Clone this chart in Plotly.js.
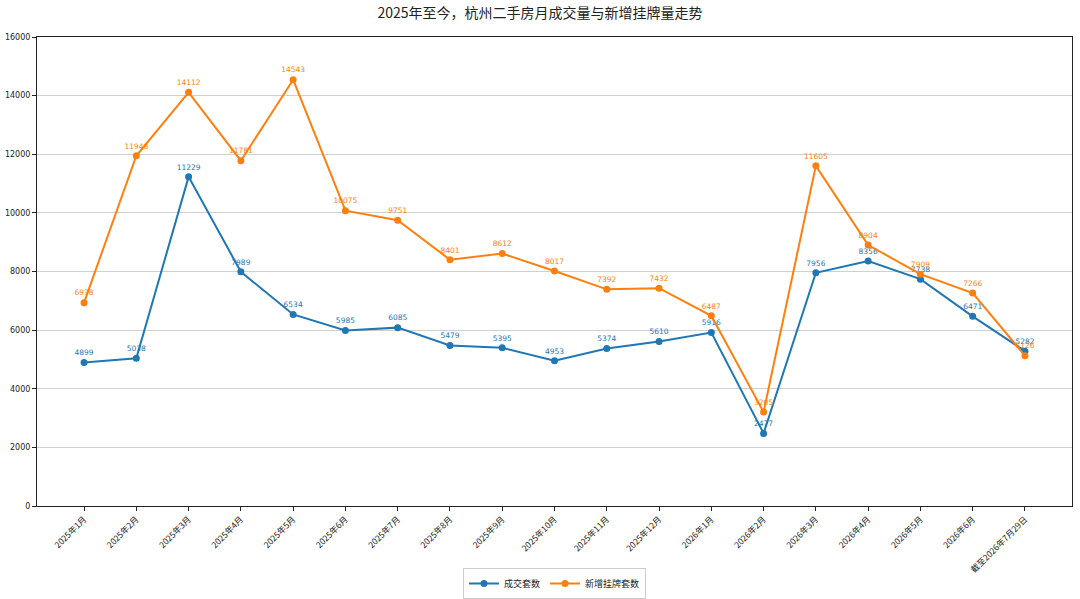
<!DOCTYPE html>
<html>
<head>
<meta charset="utf-8">
<script src="https://cdn.plot.ly/plotly-3.0.1.min.js"></script>
<style>
  html, body { margin: 0; padding: 0; background: #fff; }
  #chart { width: 1080px; height: 599px; }
</style>
</head>
<body>
<div id="chart"></div>
<script>
const months = ["2025年1月", "2025年2月", "2025年3月", "2025年4月", "2025年5月", "2025年6月",
    "2025年7月", "2025年8月", "2025年9月", "2025年10月", "2025年11月", "2025年12月",
    "2026年1月", "2026年2月", "2026年3月", "2026年4月", "2026年5月", "2026年6月", "截至2026年7月29日"];
const deals = [4899, 5038, 11229, 7989, 6534, 5985, 6085, 5479, 5395, 4953, 5374, 5610,
    5916, 2477, 7956, 8356, 7738, 6471, 5282];
const listings = [6938, 11948, 14112, 11781, 14543, 10075, 9751, 8401, 8612, 8017, 7392, 7432,
    6487, 3205, 11605, 8904, 7909, 7266, 5126];
const yTicks = [0, 2000, 4000, 6000, 8000, 10000, 12000, 14000, 16000];

const FONT = "'DejaVu Sans', 'Noto Sans CJK SC', sans-serif";
const CJK = "'Noto Sans CJK SC', 'DejaVu Sans', sans-serif";

const lineTrace = (y, name, color) => {
    return {
        x: months.map((_, i) => i),
        y: y,
        name: name,
        type: 'scatter',
        mode: 'lines+markers+text',
        line: {color: color, width: 2},
        marker: {color: color, size: 7},
        text: y.map(String),
        textposition: 'top center',
        textfont: {family: FONT, size: 7.5, color: color},
        cliponaxis: false
    }
}

const traces = [
    lineTrace(deals, "成交套数", "#1f77b4"),
    lineTrace(listings, "新增挂牌套数", "#ff7f0e")
];

const layout = {
    width: 1080,
    height: 599,
    margin: {l: 37, r: 8, t: 37, b: 93},
    paper_bgcolor: "#fff",
    plot_bgcolor: "#fff",
    font: {family: CJK, color: "#222", size: 9},
    title: {
        text: "2025年至今，杭州二手房月成交量与新增挂牌量走势",
        font: {family: CJK, size: 14, color: "#222"},
        x: 0.5, xanchor: 'center', y: 0.978, yanchor: 'middle'
    },
    xaxis: {
        range: [-0.9, 18.9],
        tickvals: months.map((_, i) => i),
        ticktext: months,
        tickangle: -45,
        tickfont: {family: CJK, size: 8.5, color: "#222"},
        ticks: 'outside', ticklen: 4, tickcolor: "#222",
        showgrid: false, zeroline: false, automargin: false,
        showline: true, linecolor: "#222", linewidth: 1, mirror: true
    },
    yaxis: {
        range: [0, 16000],
        tickvals: yTicks,
        ticktext: yTicks.map(String),
        tickfont: {family: FONT, size: 8, color: "#222"},
        ticks: 'outside', ticklen: 4, tickcolor: "#222",
        showgrid: true, gridcolor: "#d0d0d0", gridwidth: 1,
        zeroline: false, automargin: false,
        showline: true, linecolor: "#222", linewidth: 1, mirror: true
    },
    showlegend: true,
    legend: {
        orientation: 'h',
        x: 0.5, xanchor: 'center',
        yref: 'container',
        y: 0.0, yanchor: 'bottom',
        bordercolor: "#ccc", borderwidth: 1,
        font: {family: CJK, size: 9, color: "#222"},
        tracegroupgap: 0,
        itemwidth: 30
    }
};

Plotly.newPlot("chart", traces, layout, {displayModeBar: false, responsive: false});
</script>
</body>
</html>
